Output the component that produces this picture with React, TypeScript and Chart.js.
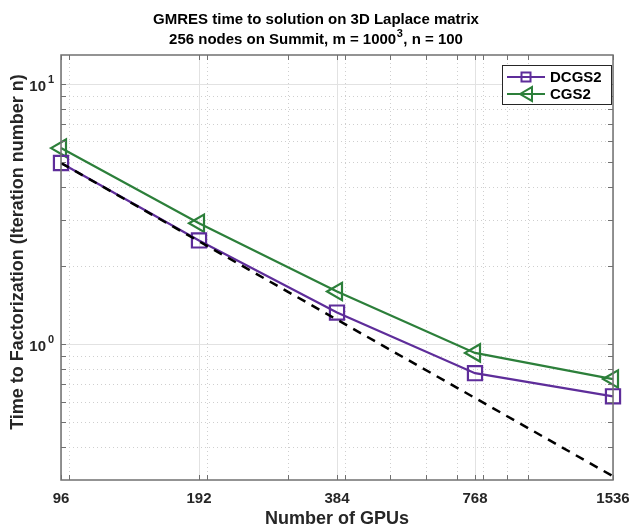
import React, { useEffect, useRef } from 'react';
import { Chart, registerables } from 'chart.js';

Chart.register(...registerables);

const gpus = [96, 192, 384, 768, 1536];
const xTickLabels = ['96', '192', '384', '768', '1536'];
const dcgs2 = [4.96, 2.5, 1.32, 0.772, 0.629];
const cgs2 = [5.66, 2.91, 1.59, 0.924, 0.733];
const ideal = [4.96, 2.48, 1.24, 0.62, 0.31];
const seriesNames = ['DCGS2', 'CGS2'];
const yMajorTicks = [1, 10];
const yTickBase = ['10', '10'];
const yTickExp = ['0', '1'];
const yMinorTicks = [0.4, 0.5, 0.6, 0.7, 0.8, 0.9, 2, 3, 4, 5, 6, 7, 8, 9];
const xMinorTicks = [100, 200, 300, 400, 500, 600, 700, 800, 900, 1000];
const yMin = 0.312;
const yMax = 12.9;
const xMin = 96;
const xMax = 1536;

const titleLine1 = 'GMRES time to solution on 3D Laplace matrix';
const titleLine2Pre = '256 nodes on Summit, m = 1000';
const titleLine2Sup = '3';
const titleLine2Post = ', n = 100';
const xTitle = 'Number of GPUs';
const yTitle = 'Time to Factorization (Iteration number n)';

const FONT = "'Liberation Sans', Arial, Helvetica, sans-serif";
const PURPLE = '#5E2D9A';
const GREEN = '#2C7F3A';
const AXIS = '#707070';
const TEXT = '#262626';

function drawTriangleLeft(ctx: CanvasRenderingContext2D, cx: number, cy: number, r: number) {
  ctx.beginPath();
  ctx.moveTo(cx - r, cy);
  ctx.lineTo(cx + r * 0.5, cy - r * 0.866);
  ctx.lineTo(cx + r * 0.5, cy + r * 0.866);
  ctx.closePath();
  ctx.stroke();
}

const framePlugin = {
  id: 'frame',
  beforeDatasetsDraw(chart: any) {
    const { ctx, chartArea: a, scales } = chart;
    const xs = scales.x;
    const ys = scales.y;
    ctx.save();
    ctx.lineWidth = 1;
    ctx.strokeStyle = '#cfcfcf';
    ctx.setLineDash([1, 3]);
    xMinorTicks.forEach((v) => {
      const p = Math.round(xs.getPixelForValue(v)) + 0.5;
      ctx.beginPath();
      ctx.moveTo(p, a.top);
      ctx.lineTo(p, a.bottom);
      ctx.stroke();
    });
    yMinorTicks.forEach((v) => {
      const p = Math.round(ys.getPixelForValue(v)) + 0.5;
      ctx.beginPath();
      ctx.moveTo(a.left, p);
      ctx.lineTo(a.right, p);
      ctx.stroke();
    });
    ctx.setLineDash([]);
    ctx.strokeStyle = '#e2e2e2';
    gpus.forEach((v) => {
      const p = Math.round(xs.getPixelForValue(v)) + 0.5;
      ctx.beginPath();
      ctx.moveTo(p, a.top);
      ctx.lineTo(p, a.bottom);
      ctx.stroke();
    });
    yMajorTicks.forEach((v) => {
      const p = Math.round(ys.getPixelForValue(v)) + 0.5;
      ctx.beginPath();
      ctx.moveTo(a.left, p);
      ctx.lineTo(a.right, p);
      ctx.stroke();
    });
    ctx.restore();
  },
  afterDatasetsDraw(chart: any) {
    const { ctx, chartArea: a, scales } = chart;
    const xs = scales.x;
    const ys = scales.y;
    ctx.save();
    ctx.strokeStyle = AXIS;
    ctx.lineWidth = 1.5;
    ctx.setLineDash([]);
    ctx.strokeRect(a.left, a.top, a.right - a.left, a.bottom - a.top);
    ctx.lineWidth = 1;
    const tl = 5;
    [...gpus, ...xMinorTicks].forEach((v) => {
      const p = Math.round(xs.getPixelForValue(v)) + 0.5;
      ctx.beginPath();
      ctx.moveTo(p, a.bottom);
      ctx.lineTo(p, a.bottom - tl);
      ctx.moveTo(p, a.top);
      ctx.lineTo(p, a.top + tl);
      ctx.stroke();
    });
    [...yMajorTicks, ...yMinorTicks].forEach((v) => {
      const p = Math.round(ys.getPixelForValue(v)) + 0.5;
      ctx.beginPath();
      ctx.moveTo(a.left, p);
      ctx.lineTo(a.left + tl, p);
      ctx.moveTo(a.right, p);
      ctx.lineTo(a.right - tl, p);
      ctx.stroke();
    });
    // y tick labels with superscripts
    ctx.fillStyle = TEXT;
    yMajorTicks.forEach((v, i) => {
      const p = ys.getPixelForValue(v);
      ctx.font = `bold 15px ${FONT}`;
      ctx.textAlign = 'right';
      ctx.textBaseline = 'middle';
      ctx.fillText(yTickBase[i], a.left - 15, p + 3);
      ctx.font = `bold 11px ${FONT}`;
      ctx.textAlign = 'left';
      ctx.fillText(yTickExp[i], a.left - 13, p - 4);
    });
    // y title
    ctx.save();
    ctx.translate(18, 252);
    ctx.rotate(-Math.PI / 2);
    ctx.font = `bold 18px ${FONT}`;
    ctx.textAlign = 'center';
    ctx.textBaseline = 'middle';
    ctx.fillStyle = TEXT;
    ctx.fillText(yTitle, 0, 0);
    ctx.restore();
    // title
    const cx = chart.width / 2;
    ctx.fillStyle = '#000000';
    ctx.textBaseline = 'middle';
    ctx.font = `bold 15px ${FONT}`;
    ctx.textAlign = 'center';
    ctx.fillText(titleLine1, cx, 20);
    ctx.textAlign = 'left';
    const wPre = ctx.measureText(titleLine2Pre).width;
    const wPost = ctx.measureText(titleLine2Post).width;
    ctx.font = `bold 11px ${FONT}`;
    const wSup = ctx.measureText(titleLine2Sup).width;
    const start = cx - (wPre + wSup + 1 + wPost) / 2;
    ctx.font = `bold 15px ${FONT}`;
    ctx.fillText(titleLine2Pre, start, 40);
    ctx.fillText(titleLine2Post, start + wPre + wSup + 1, 40);
    ctx.font = `bold 11px ${FONT}`;
    ctx.fillText(titleLine2Sup, start + wPre + 0.5, 34);
    // legend
    const lx = 502.5;
    const ly = 65.5;
    const lw = 109;
    const lh = 39;
    ctx.fillStyle = '#ffffff';
    ctx.fillRect(lx, ly, lw, lh);
    ctx.strokeStyle = '#262626';
    ctx.lineWidth = 1;
    ctx.strokeRect(lx, ly, lw, lh);
    const colors = [PURPLE, GREEN];
    const rows = [77, 94];
    seriesNames.forEach((name, i) => {
      const cy = rows[i];
      ctx.strokeStyle = colors[i];
      ctx.lineWidth = 2;
      ctx.beginPath();
      ctx.moveTo(507, cy);
      ctx.lineTo(545, cy);
      ctx.stroke();
      if (i === 0) {
        ctx.strokeRect(521.5, cy - 4.5, 9, 9);
      } else {
        drawTriangleLeft(ctx, 528, cy, 8);
      }
      ctx.fillStyle = '#000000';
      ctx.font = `bold 15px ${FONT}`;
      ctx.textAlign = 'left';
      ctx.textBaseline = 'middle';
      ctx.fillText(name, 550, cy + 1);
    });
    ctx.restore();
  },
};

export default function App() {
  const ref = useRef<HTMLCanvasElement>(null);
  useEffect(() => {
    document.body.style.margin = '0';
    const toPts = (arr: number[]) => arr.map((y, i) => ({ x: gpus[i], y }));
    const chart = new Chart(ref.current as HTMLCanvasElement, {
      type: 'line',
      data: {
        datasets: [
          {
            label: '',
            data: toPts(ideal),
            borderColor: '#000000',
            borderWidth: 2.5,
            borderDash: [9, 7],
            pointRadius: 0,
            order: 0,
          },
          {
            label: seriesNames[0],
            data: toPts(dcgs2),
            borderColor: PURPLE,
            borderWidth: 2.2,
            pointStyle: 'rect',
            pointRadius: 10,
            pointBorderWidth: 2.2,
            pointBorderColor: PURPLE,
            pointBackgroundColor: 'rgba(0,0,0,0)',
            clip: false,
            order: 1,
          },
          {
            label: seriesNames[1],
            data: toPts(cgs2),
            borderColor: GREEN,
            borderWidth: 2.2,
            pointStyle: 'triangle',
            rotation: -90,
            pointRadius: 10,
            pointBorderWidth: 2.2,
            pointBorderColor: GREEN,
            pointBackgroundColor: 'rgba(0,0,0,0)',
            clip: false,
            order: 2,
          },
        ],
      },
      options: {
        responsive: false,
        animation: false,
        layout: { padding: { top: 55, left: 0, right: 0, bottom: 0 } },
        plugins: {
          legend: { display: false },
          tooltip: { enabled: false },
          title: { display: false },
        },
        scales: {
          x: {
            type: 'logarithmic',
            min: xMin,
            max: xMax,
            afterBuildTicks: (s: any) => {
              s.ticks = gpus.map((v) => ({ value: v }));
            },
            afterFit: (s: any) => {
              s.height = 48;
              s.paddingLeft = 0;
              s.paddingRight = 19;
            },
            ticks: {
              autoSkip: false,
              maxRotation: 0,
              minRotation: 0,
              callback: (_v: any, i: number) => xTickLabels[i],
              color: TEXT,
              font: { family: FONT, size: 15, weight: 'bold' },
              padding: 2,
            },
            grid: { display: false },
            border: { display: false },
            title: {
              display: true,
              text: xTitle,
              color: TEXT,
              font: { family: FONT, size: 18, weight: 'bold', lineHeight: 1.0 },
              padding: { top: 0, bottom: 0 },
            },
          },
          y: {
            type: 'logarithmic',
            min: yMin,
            max: yMax,
            afterFit: (s: any) => {
              s.width = 61;
              s.paddingTop = 0;
              s.paddingBottom = 0;
            },
            ticks: { display: false },
            grid: { display: false },
            border: { display: false },
          },
        },
      },
      plugins: [framePlugin],
    } as any);
    return () => chart.destroy();
  }, []);
  return (
    <div style={{ width: 632, height: 528 }}>
      <canvas ref={ref} width={632} height={528} style={{ display: 'block' }} />
    </div>
  );
}
